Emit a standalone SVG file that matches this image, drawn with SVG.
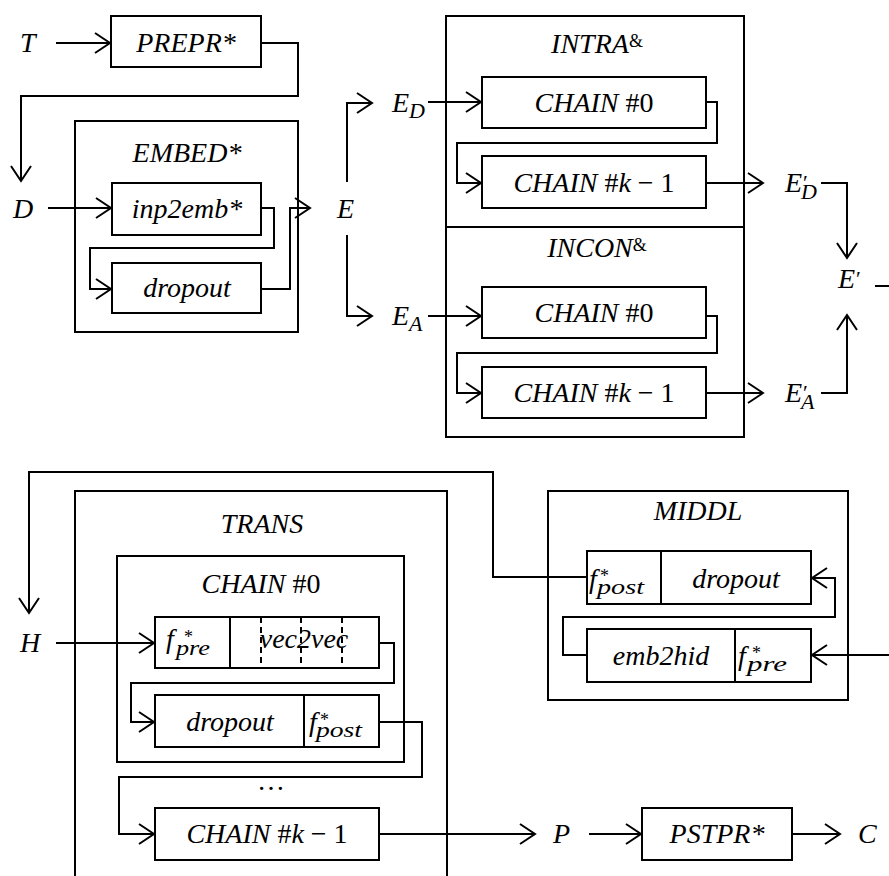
<svg xmlns="http://www.w3.org/2000/svg" width="889" height="876" viewBox="0 0 889 876">
<style>
.b{fill:none;stroke:#000;stroke-width:2}
.c{fill:none;stroke:#000;stroke-width:2}
.d{fill:none;stroke:#000;stroke-width:2;stroke-dasharray:6,4}
.t{font-size:28px;font-style:italic;fill:#000}
.m{text-anchor:middle}
.up{font-style:normal}
.sub{font-size:22px}
.sup{font-size:18px;font-style:normal}
</style>
<defs>
<marker id="ah" markerUnits="userSpaceOnUse" markerWidth="20" markerHeight="24" viewBox="-17 -12 20 24" refX="0" refY="0" orient="auto" overflow="visible">
<path d="M-15,-10 L0,0 L-15,10" fill="none" stroke="#000" stroke-width="2"/>
</marker>
</defs>
<rect width="889" height="876" fill="#fff"/>

<g id="connectors">
<path class="c" d="M56,43 H110" marker-end="url(#ah)"/>
<path class="c" d="M261,43 H298 V96 H21 V181" marker-end="url(#ah)"/>
<path class="c" d="M48,208 H111" marker-end="url(#ah)"/>
<path class="c" d="M261,208 H274 V248 H90 V289 H111" marker-end="url(#ah)"/>
<path class="c" d="M261,289 H290 V208 H310" marker-end="url(#ah)"/>
<path class="c" d="M347,182 V103 H372" marker-end="url(#ah)"/>
<path class="c" d="M347,235 V316 H372" marker-end="url(#ah)"/>
<path class="c" d="M428,102 H481" marker-end="url(#ah)"/>
<path class="c" d="M706,102 H717 V143 H457 V183 H481" marker-end="url(#ah)"/>
<path class="c" d="M706,183 H763" marker-end="url(#ah)"/>
<path class="c" d="M821,183 H847 V258" marker-end="url(#ah)"/>
<path class="c" d="M428,316 H481" marker-end="url(#ah)"/>
<path class="c" d="M706,316 H717 V353 H457 V393 H481" marker-end="url(#ah)"/>
<path class="c" d="M706,393 H763" marker-end="url(#ah)"/>
<path class="c" d="M821,393 H847 V315" marker-end="url(#ah)"/>
<path class="c" d="M875,286 H890"/>
<path class="c" d="M890,655 H812" marker-end="url(#ah)"/>
<path class="c" d="M587,655 H563 V617 H835 V578 H812" marker-end="url(#ah)"/>
<path class="c" d="M587,577 H493 V472 H29 V613" marker-end="url(#ah)"/>
<path class="c" d="M56,643 H154" marker-end="url(#ah)"/>
<path class="c" d="M379,643 H394 V683 H131 V722 H154" marker-end="url(#ah)"/>
<path class="c" d="M379,722 H422 V777 H119 V834 H154" marker-end="url(#ah)"/>
<path class="c" d="M379,834 H535" marker-end="url(#ah)"/>
<path class="c" d="M589,834 H641" marker-end="url(#ah)"/>
<path class="c" d="M792,834 H840" marker-end="url(#ah)"/>
</g>

<g font-family="Liberation Serif, serif">
<g id="T"><text class="t" x="20" y="52">T</text></g>
<g id="PREPR"><rect class="b" x="111" y="16" width="150" height="51"/><text class="t m" x="186" y="52">PREPR*</text></g>
<g id="D"><text class="t" x="13" y="218">D</text></g>
<g id="EMBED"><rect class="b" x="75" y="121" width="223" height="211"/><text class="t m" x="187" y="162">EMBED*</text></g>
<g id="inp2emb"><rect class="b" x="112" y="183" width="149" height="52"/><text class="t m" x="187" y="218">inp2emb*</text></g>
<g id="dropout1"><rect class="b" x="112" y="263" width="149" height="50"/><text class="t m" x="187" y="297">dropout</text></g>
<g id="E"><text class="t" x="337" y="218">E</text></g>
<g id="ED"><text class="t" x="392" y="112">E<tspan class="sub" dy="6">D</tspan></text></g>
<g id="EA"><text class="t" x="392" y="325">E<tspan class="sub" dy="6">A</tspan></text></g>

<g id="INTRA"><rect class="b" x="446" y="16" width="298" height="211"/><text class="t m" x="597" y="53">INTRA<tspan class="up" font-size="18" dy="-6">&amp;</tspan></text></g>
<g id="intra-chain0"><rect class="b" x="482" y="77" width="224" height="51"/><text class="t m" x="594" y="112">CHAIN <tspan class="up">#0</tspan></text></g>
<g id="intra-chaink"><rect class="b" x="482" y="156" width="224" height="52"/><text class="t m" x="594" y="192">CHAIN <tspan class="up">#</tspan>k<tspan class="up"> − 1</tspan></text></g>
<g id="INCON"><rect class="b" x="446" y="227" width="298" height="210"/><text class="t m" x="597" y="257">INCON<tspan class="up" font-size="18" dy="-6">&amp;</tspan></text></g>
<g id="incon-chain0"><rect class="b" x="482" y="287" width="224" height="51"/><text class="t m" x="594" y="322">CHAIN <tspan class="up">#0</tspan></text></g>
<g id="incon-chaink"><rect class="b" x="482" y="367" width="224" height="51"/><text class="t m" x="594" y="402">CHAIN <tspan class="up">#</tspan>k<tspan class="up"> − 1</tspan></text></g>

<g id="EpD"><text class="t" x="785" y="192">E<tspan class="up" x="803" y="190" font-size="22">′</tspan><tspan class="sub" x="801" y="199">D</tspan></text></g>
<g id="EpA"><text class="t" x="785" y="402">E<tspan class="up" x="803" y="400" font-size="22">′</tspan><tspan class="sub" x="801" y="409">A</tspan></text></g>
<g id="Ep"><text class="t" x="838" y="288">E<tspan class="up" x="856" y="286" font-size="22">′</tspan></text></g>

<g id="H"><text class="t" x="20" y="652">H</text></g>
<g id="TRANS"><path class="b" d="M75,880 V491 H447 V880"/><text class="t m" x="262" y="533">TRANS</text></g>
<g id="trans-chain0"><rect class="b" x="117" y="556" width="287" height="206"/><text class="t m" x="261" y="593">CHAIN <tspan class="up">#0</tspan></text></g>
<g id="fpre-vec2vec">
<rect class="b" x="155" y="617" width="224" height="51"/>
<line class="b" x1="230" y1="617" x2="230" y2="668"/>
<line class="d" x1="261" y1="617" x2="261" y2="668"/>
<line class="d" x1="301" y1="617" x2="301" y2="668"/>
<line class="d" x1="342" y1="617" x2="342" y2="668"/>
<text class="t" x="166" y="648">f<tspan class="sup" x="184" y="643">*</tspan><tspan class="sub" x="176" y="655" textLength="34" lengthAdjust="spacingAndGlyphs">pre</tspan></text>
<text class="t m" x="304" y="648">vec2vec</text>
</g>
<g id="dropout-fpost">
<rect class="b" x="155" y="695" width="224" height="52"/>
<line class="b" x1="304" y1="695" x2="304" y2="747"/>
<text class="t m" x="230" y="731">dropout</text>
<text class="t" x="309" y="731">f<tspan class="sup" x="320" y="726">*</tspan><tspan class="sub" x="316" y="737" textLength="46" lengthAdjust="spacingAndGlyphs">post</tspan></text>
</g>
<g id="dots"><text class="t m up" x="271" y="790" font-size="20">…</text></g>
<g id="trans-chaink"><rect class="b" x="155" y="808" width="224" height="52"/><text class="t m" x="267" y="843">CHAIN <tspan class="up">#</tspan>k<tspan class="up"> − 1</tspan></text></g>

<g id="MIDDL"><rect class="b" x="548" y="491" width="300" height="209"/><text class="t m" x="698" y="520">MIDDL</text></g>
<g id="fpost-dropout">
<rect class="b" x="587" y="551" width="224" height="53"/>
<line class="b" x1="661" y1="551" x2="661" y2="604"/>
<text class="t" x="589" y="588">f<tspan class="sup" x="600" y="582">*</tspan><tspan class="sub" x="597" y="594" textLength="47" lengthAdjust="spacingAndGlyphs">post</tspan></text>
<text class="t m" x="736" y="588">dropout</text>
</g>
<g id="emb2hid-fpre">
<rect class="b" x="587" y="629" width="224" height="53"/>
<line class="b" x1="735" y1="629" x2="735" y2="682"/>
<text class="t m" x="661" y="665">emb2hid</text>
<text class="t" x="738" y="665">f<tspan class="sup" x="752" y="659">*</tspan><tspan class="sub" x="747" y="671" textLength="40" lengthAdjust="spacingAndGlyphs">pre</tspan></text>
</g>

<g id="P"><text class="t" x="553" y="843">P</text></g>
<g id="PSTPR"><rect class="b" x="642" y="808" width="150" height="52"/><text class="t m" x="717" y="843">PSTPR*</text></g>
<g id="C"><text class="t" x="858" y="843">C</text></g>
</g>
</svg>
